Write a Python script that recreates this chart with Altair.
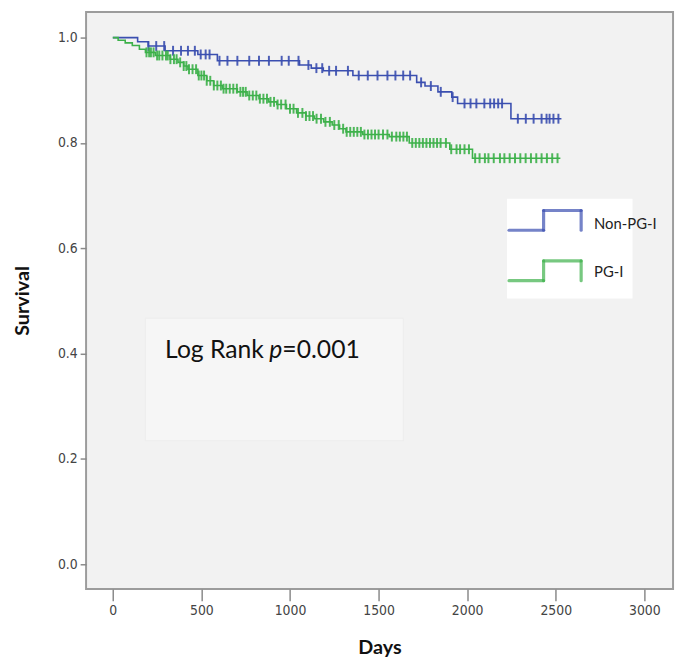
import altair as alt
import pandas as pd
import numpy as np

# ---------------- data ----------------
# Non-PG-I (blue) Kaplan-Meier steps: day, survival
blue_days = [0, 140, 200, 295, 480, 590, 1054, 1120, 1188, 1355, 1715, 1762, 1835, 1913, 1946, 2247, 2532]
blue_surv = [1.000, 0.992, 0.984, 0.975, 0.968, 0.956, 0.948, 0.942, 0.937, 0.928, 0.915, 0.908, 0.897, 0.887, 0.875, 0.846, 0.846]

# PG-I (green) Kaplan-Meier steps
green_days = [0, 30, 70, 110, 150, 184, 240, 323, 368, 400, 424, 480, 530, 569, 619, 703, 758, 825, 880,
              926, 980, 1037, 1090, 1138, 1190, 1238, 1280, 1316, 1411, 1560, 1673, 1902, 2030, 2526]
green_surv = [1.000, 0.995, 0.990, 0.985, 0.978, 0.972, 0.966, 0.959, 0.953, 0.946, 0.940, 0.928, 0.918,
              0.909, 0.903, 0.897, 0.890, 0.884, 0.878, 0.873, 0.865, 0.857, 0.851, 0.846, 0.840, 0.834,
              0.827, 0.821, 0.816, 0.812, 0.800, 0.788, 0.771, 0.771]

# censored observations (days)
blue_cens = [201, 245, 290, 340, 385, 424, 463, 496, 524, 546, 602, 647, 703, 770, 825, 881, 953, 993,
             1048, 1104, 1149, 1182, 1221, 1260, 1327, 1388, 1439, 1494, 1550, 1595, 1639, 1678, 1740,
             1795, 1851, 1918, 1985, 2019, 2052, 2097, 2130, 2152, 2175, 2197, 2286, 2331, 2375, 2420,
             2448, 2465, 2487, 2515]
green_cens = [190, 205, 215, 230, 250, 262, 280, 300, 310, 325, 345, 360, 380, 400, 415, 430, 450, 470,
              485, 500, 515, 530, 550, 570, 590, 610, 625, 640, 660, 680, 700, 720, 735, 750, 770, 790,
              810, 830, 850, 870, 890, 910, 930, 950, 975, 1000, 1020, 1045, 1070, 1090, 1110, 1130,
              1150, 1175, 1200, 1225, 1250, 1275, 1300, 1320, 1340, 1360, 1380, 1400, 1420, 1440, 1460,
              1480, 1500, 1525, 1550, 1575, 1600, 1620, 1640, 1660, 1690, 1710, 1730, 1750, 1770, 1790,
              1810, 1830, 1850, 1880, 1910, 1940, 1960, 1985, 2010, 2045, 2070, 2100, 2120, 2150, 2185,
              2210, 2240, 2270, 2300, 2330, 2360, 2390, 2420, 2450, 2480, 2510]

groups = ["Non-PG-I", "PG-I"]
colors = ["#3b4fb0", "#3db14a"]

x_ticks = [0, 500, 1000, 1500, 2000, 2500, 3000]
y_ticks = [0.0, 0.2, 0.4, 0.6, 0.8, 1.0]


def step_value(days, surv, t):
    idx = np.searchsorted(np.array(days), t, side="right") - 1
    return surv[max(idx, 0)]


curves = pd.concat([
    pd.DataFrame({"day": blue_days, "surv": blue_surv, "group": groups[0]}),
    pd.DataFrame({"day": green_days, "surv": green_surv, "group": groups[1]}),
])
cens = pd.concat([
    pd.DataFrame({"day": blue_cens, "surv": [step_value(blue_days, blue_surv, t) for t in blue_cens],
                  "group": groups[0]}),
    pd.DataFrame({"day": green_cens, "surv": [step_value(green_days, green_surv, t) for t in green_cens],
                  "group": groups[1]}),
])

W, H = 594, 584
xscale = alt.Scale(domain=[-151, 3162], nice=False, zero=False)
yscale = alt.Scale(domain=[-0.0469, 1.0488], nice=False, zero=False)
cscale = alt.Scale(domain=groups, range=colors)

LABEL_FONT = "Liberation Sans Narrow, DejaVu Sans Condensed, sans-serif"
TITLE_FONT = "Lato, Open Sans, sans-serif"

xaxis = alt.Axis(values=x_ticks, format="d", title="Days", grid=False, domain=False,
                 tickSize=12, tickColor="#8a8a8a", tickWidth=1.5, labelFont=LABEL_FONT,
                 labelFontSize=14, labelColor="#444", labelPadding=3,
                 titleFont=TITLE_FONT, titleFontSize=20, titleFontWeight="bold",
                 titleColor="#111", titlePadding=20)
yaxis = alt.Axis(values=y_ticks, format=".1f", title="Survival", grid=False, domain=False,
                 tickSize=6, tickColor="#8a8a8a", tickWidth=1.5, labelFont=LABEL_FONT,
                 labelFontSize=14, labelColor="#444", labelPadding=3,
                 titleFont=TITLE_FONT, titleFontSize=20, titleFontWeight="bold",
                 titleColor="#111", titlePadding=25)

one = pd.DataFrame({"a": [0]})

# faint box behind the log-rank annotation
textbox = alt.Chart(one).mark_rect(fill="#f6f6f6", stroke="#ededed", strokeWidth=1).encode(
    x=alt.value(60), x2=alt.value(321), y=alt.value(310), y2=alt.value(434))

lines = alt.Chart(curves).mark_line(interpolate="step-after", strokeWidth=1.6).encode(
    x=alt.X("day:Q", scale=xscale, axis=xaxis),
    y=alt.Y("surv:Q", scale=yscale, axis=yaxis),
    color=alt.Color("group:N", scale=cscale, legend=None),
    detail="group:N",
)

ticks = alt.Chart(cens).mark_point(shape="M0,-1L0,1", filled=False, strokeWidth=2, size=100, opacity=0.9).encode(
    x=alt.X("day:Q", scale=xscale),
    y=alt.Y("surv:Q", scale=yscale),
    stroke=alt.Stroke("group:N", scale=cscale, legend=None),
)

# annotation text
t1 = alt.Chart(one).mark_text(text="Log Rank", font=TITLE_FONT, fontSize=25, align="left",
                              baseline="alphabetic", color="#111").encode(
    x=alt.value(80), y=alt.value(350))
t2 = alt.Chart(one).mark_text(text="p", font=TITLE_FONT, fontSize=25, fontStyle="italic", align="center",
                              baseline="alphabetic", color="#111").encode(
    x=alt.value(192), y=alt.value(350))
t3 = alt.Chart(one).mark_text(text="=0.001", font=TITLE_FONT, fontSize=25, align="right",
                              baseline="alphabetic", color="#111").encode(
    x=alt.value(277), y=alt.value(350))

# legend box drawn by hand
legbox = alt.Chart(one).mark_rect(fill="white").encode(
    x=alt.value(426), x2=alt.value(553), y=alt.value(189), y2=alt.value(290))


def icon(color, ylow, yhigh):
    segs = [(428, ylow, 463, ylow), (463, ylow, 463, yhigh), (463, yhigh, 501, yhigh), (501, yhigh, 501, ylow)]
    out = []
    for x1, y1, x2, y2 in segs:
        out.append(alt.Chart(one).mark_rule(color=color, strokeWidth=3.2, opacity=0.7, strokeCap="round").encode(
            x=alt.value(x1), x2=alt.value(x2), y=alt.value(y1), y2=alt.value(y2)))
    return out


leg_layers = icon(colors[0], 221, 201) + icon(colors[1], 272, 252)
leg_text = [
    alt.Chart(one).mark_text(text=groups[0], font=TITLE_FONT, fontSize=15, align="left", baseline="middle",
                             color="#222").encode(x=alt.value(514), y=alt.value(215)),
    alt.Chart(one).mark_text(text=groups[1], font=TITLE_FONT, fontSize=15, align="left", baseline="middle",
                             color="#222").encode(x=alt.value(514), y=alt.value(263)),
]

chart = alt.layer(textbox, lines, ticks, t1, t2, t3, legbox, *leg_layers, *leg_text).properties(
    width=W, height=H,
    autosize=alt.AutoSizeParams(type="none"),
    padding={"left": 79, "top": 0, "right": 4, "bottom": 74},
    background="white",
).configure_view(
    fill="#f2f2f2", stroke="#9c9c9c", strokeWidth=2,
)

chart.save("out.html", embed_options={"renderer": "svg", "actions": False})
